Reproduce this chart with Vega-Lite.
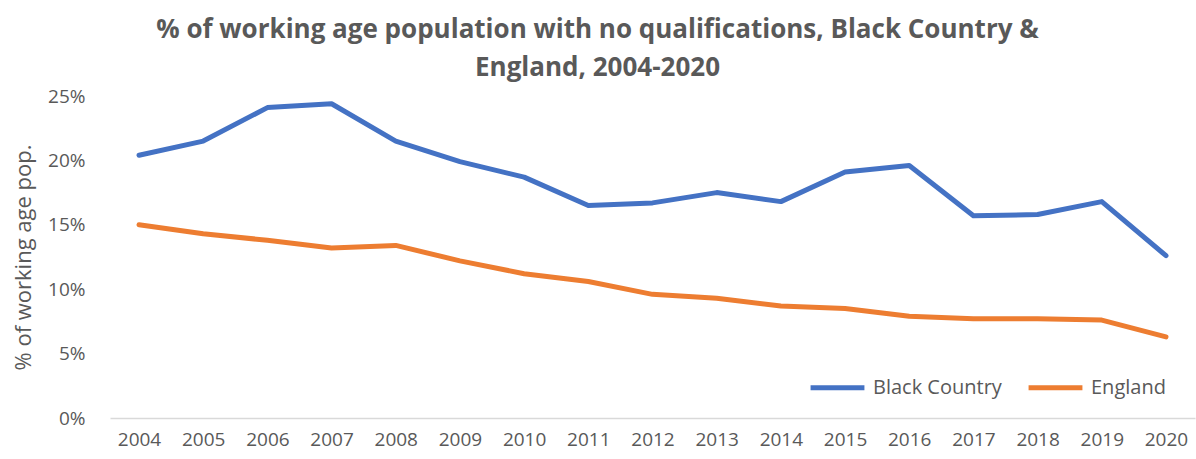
{
  "$schema": "https://vega.github.io/schema/vega-lite/v6.json",
  "width": 1085,
  "height": 322,
  "autosize": {"type": "none"},
  "padding": {"left": 110, "top": 96, "right": 1, "bottom": 41},
  "background": "white",
  "config": {
    "view": {"stroke": null},
    "font": "Open Sans",
    "text": {"font": "Open Sans"}
  },
  "title": {
    "text": ["% of working age population with no qualifications, Black Country &", "England, 2004-2020"],
    "font": "Open Sans",
    "fontSize": 26,
    "fontWeight": "bold",
    "color": "#595959",
    "anchor": "middle",
    "frame": "group",
    "dx": -55,
    "lineHeight": 38,
    "offset": 6
  },
  "data": {
    "values": [
      {"year": "2004", "area": "Black Country", "value": 20.4},
      {"year": "2005", "area": "Black Country", "value": 21.5},
      {"year": "2006", "area": "Black Country", "value": 24.1},
      {"year": "2007", "area": "Black Country", "value": 24.4},
      {"year": "2008", "area": "Black Country", "value": 21.5},
      {"year": "2009", "area": "Black Country", "value": 19.9},
      {"year": "2010", "area": "Black Country", "value": 18.7},
      {"year": "2011", "area": "Black Country", "value": 16.5},
      {"year": "2012", "area": "Black Country", "value": 16.7},
      {"year": "2013", "area": "Black Country", "value": 17.5},
      {"year": "2014", "area": "Black Country", "value": 16.8},
      {"year": "2015", "area": "Black Country", "value": 19.1},
      {"year": "2016", "area": "Black Country", "value": 19.6},
      {"year": "2017", "area": "Black Country", "value": 15.7},
      {"year": "2018", "area": "Black Country", "value": 15.8},
      {"year": "2019", "area": "Black Country", "value": 16.8},
      {"year": "2020", "area": "Black Country", "value": 12.6},
      {"year": "2004", "area": "England", "value": 15.0},
      {"year": "2005", "area": "England", "value": 14.3},
      {"year": "2006", "area": "England", "value": 13.8},
      {"year": "2007", "area": "England", "value": 13.2},
      {"year": "2008", "area": "England", "value": 13.4},
      {"year": "2009", "area": "England", "value": 12.2},
      {"year": "2010", "area": "England", "value": 11.2},
      {"year": "2011", "area": "England", "value": 10.6},
      {"year": "2012", "area": "England", "value": 9.6},
      {"year": "2013", "area": "England", "value": 9.3},
      {"year": "2014", "area": "England", "value": 8.7},
      {"year": "2015", "area": "England", "value": 8.5},
      {"year": "2016", "area": "England", "value": 7.9},
      {"year": "2017", "area": "England", "value": 7.7},
      {"year": "2018", "area": "England", "value": 7.7},
      {"year": "2019", "area": "England", "value": 7.6},
      {"year": "2020", "area": "England", "value": 6.3}
    ]
  },
  "mark": {"type": "line", "strokeWidth": 5, "strokeCap": "round", "strokeJoin": "round"},
  "encoding": {
    "x": {
      "field": "year",
      "type": "ordinal",
      "scale": {"type": "point", "padding": 0.452},
      "axis": {
        "title": null,
        "labelAngle": 0,
        "labelFont": "Open Sans",
        "labelFontSize": 19,
        "labelColor": "#595959",
        "labelPadding": 12,
        "ticks": false,
        "domain": true,
        "domainColor": "#d9d9d9",
        "domainWidth": 1.5,
        "grid": false
      }
    },
    "y": {
      "field": "value",
      "type": "quantitative",
      "scale": {"domain": [0, 25], "nice": false},
      "axis": {
        "title": "% of working age pop.",
        "titleFont": "Open Sans",
        "titleFontSize": 22,
        "titleFontWeight": "normal",
        "titleColor": "#595959",
        "titlePadding": 12,
        "values": [0, 5, 10, 15, 20, 25],
        "labelExpr": "datum.value + '%'",
        "labelFont": "Open Sans",
        "labelFontSize": 19,
        "labelColor": "#595959",
        "labelPadding": 25,
        "ticks": false,
        "domain": false,
        "grid": false
      }
    },
    "color": {
      "field": "area",
      "type": "nominal",
      "scale": {"domain": ["Black Country", "England"], "range": ["#4472C4", "#ED7D31"]},
      "legend": {
        "title": null,
        "orient": "none",
        "direction": "horizontal",
        "legendX": 698,
        "legendY": 262,
        "symbolType": "stroke",
        "symbolStrokeWidth": 5,
        "symbolSize": 2900,
        "labelFont": "Open Sans",
        "labelFontSize": 20,
        "labelColor": "#595959",
        "labelOffset": 6,
        "columnPadding": 16
      }
    }
  }
}
